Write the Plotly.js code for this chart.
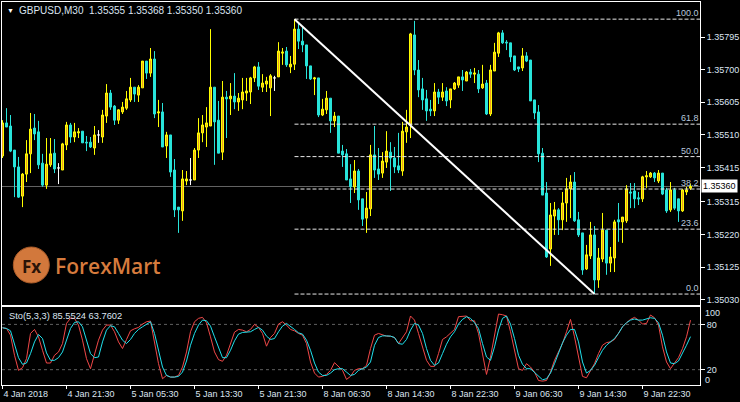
<!DOCTYPE html>
<html><head><meta charset="utf-8">
<script src="https://cdn.plot.ly/plotly-3.0.1.min.js"></script>
<style>html,body{margin:0;padding:0;background:#000;}#chart{width:740px;height:402px;}</style>
</head><body><div id="chart"></div>
<script>
// ---- OHLC data (GBPUSD M30), bar index 0..172 ----
const opens = [1.35449,1.35545,1.35536,1.35466,1.35417,1.35332,1.35396,1.35455,1.35530,1.35519,
1.35428,1.35364,1.35423,1.35457,1.35414,1.35408,1.35481,1.35539,1.35504,1.35516,
1.35521,1.35489,1.35489,1.35472,1.35510,1.35504,1.35565,1.35632,1.35594,1.35553,
1.35577,1.35588,1.35612,1.35649,1.35626,1.35647,1.35725,1.35690,1.35731,1.35574,
1.35577,1.35478,1.35510,1.35408,1.35300,1.35289,1.35376,1.35379,1.35379,1.35466,
1.35516,1.35533,1.35536,1.35649,1.35553,1.35460,1.35620,1.35615,1.35623,1.35606,
1.35612,1.35632,1.35635,1.35676,1.35708,1.35649,1.35658,1.35647,1.35676,1.35679,
1.35748,1.35754,1.35708,1.35716,1.35818,1.35783,1.35772,1.35711,1.35673,1.35676,
1.35568,1.35583,1.35617,1.35551,1.35565,1.35463,1.35455,1.35382,1.35359,1.35405,
1.35324,1.35268,1.35295,1.35452,1.35411,1.35399,1.35431,1.35460,1.35443,1.35420,
1.35405,1.35519,1.35539,1.35801,1.35699,1.35644,1.35615,1.35585,1.35580,1.35635,
1.35620,1.35638,1.35612,1.35644,1.35655,1.35679,1.35667,1.35693,1.35687,1.35687,
1.35647,1.35661,1.35571,1.35696,1.35748,1.35807,1.35780,1.35778,1.35740,1.35708,
1.35705,1.35740,1.35728,1.35612,1.35577,1.35457,1.35341,1.35178,1.35274,1.35292,
1.35263,1.35312,1.35353,1.35373,1.35263,1.35225,1.35120,1.35158,1.35219,1.35088,
1.35149,1.35233,1.35137,1.35152,1.35263,1.35257,1.35260,1.35344,1.35347,1.35327,
1.35324,1.35388,1.35388,1.35399,1.35376,1.35399,1.35350,1.35292,1.35350,1.35324,
1.35289,1.35344,1.35355];
const highs = [1.35553,1.35588,1.35568,1.35466,1.35446,1.35399,1.35495,1.35574,1.35571,1.35551,
1.35455,1.35501,1.35501,1.35498,1.35428,1.35487,1.35548,1.35545,1.35545,1.35530,
1.35521,1.35507,1.35504,1.35536,1.35524,1.35583,1.35658,1.35641,1.35597,1.35585,
1.35606,1.35638,1.35676,1.35649,1.35655,1.35725,1.35725,1.35763,1.35754,1.35612,
1.35603,1.35519,1.35510,1.35440,1.35300,1.35408,1.35405,1.35443,1.35472,1.35559,
1.35568,1.35591,1.35818,1.35649,1.35609,1.35667,1.35638,1.35661,1.35690,1.35632,
1.35676,1.35676,1.35679,1.35711,1.35722,1.35687,1.35679,1.35687,1.35682,1.35780,
1.35763,1.35766,1.35740,1.35847,1.35836,1.35824,1.35772,1.35711,1.35679,1.35676,
1.35615,1.35638,1.35617,1.35577,1.35565,1.35481,1.35469,1.35425,1.35437,1.35411,
1.35324,1.35344,1.35481,1.35536,1.35472,1.35460,1.35521,1.35489,1.35475,1.35516,
1.35548,1.35583,1.35807,1.35842,1.35728,1.35676,1.35641,1.35612,1.35661,1.35644,
1.35661,1.35649,1.35644,1.35664,1.35679,1.35699,1.35696,1.35702,1.35705,1.35699,
1.35714,1.35670,1.35714,1.35778,1.35810,1.35815,1.35786,1.35778,1.35740,1.35708,
1.35763,1.35751,1.35728,1.35612,1.35597,1.35472,1.35373,1.35312,1.35315,1.35297,
1.35344,1.35385,1.35393,1.35402,1.35286,1.35225,1.35190,1.35257,1.35245,1.35181,
1.35283,1.35233,1.35184,1.35263,1.35312,1.35271,1.35364,1.35370,1.35370,1.35344,
1.35391,1.35405,1.35402,1.35402,1.35408,1.35399,1.35356,1.35373,1.35356,1.35324,
1.35353,1.35359,1.35368];
const lows = [1.35443,1.35533,1.35460,1.35329,1.35327,1.35300,1.35373,1.35399,1.35495,1.35411,
1.35359,1.35353,1.35417,1.35399,1.35367,1.35408,1.35466,1.35487,1.35489,1.35501,
1.35487,1.35463,1.35472,1.35452,1.35487,1.35487,1.35545,1.35583,1.35539,1.35542,
1.35571,1.35583,1.35606,1.35606,1.35606,1.35647,1.35673,1.35679,1.35559,1.35533,
1.35475,1.35443,1.35388,1.35271,1.35225,1.35260,1.35364,1.35364,1.35379,1.35443,
1.35489,1.35475,1.35536,1.35423,1.35457,1.35437,1.35501,1.35568,1.35585,1.35580,
1.35585,1.35609,1.35600,1.35664,1.35641,1.35635,1.35635,1.35565,1.35638,1.35679,
1.35714,1.35708,1.35690,1.35699,1.35760,1.35751,1.35673,1.35670,1.35626,1.35562,
1.35565,1.35571,1.35516,1.35533,1.35457,1.35417,1.35379,1.35312,1.35341,1.35292,
1.35245,1.35225,1.35274,1.35385,1.35379,1.35385,1.35414,1.35347,1.35399,1.35399,
1.35391,1.35487,1.35501,1.35684,1.35620,1.35583,1.35551,1.35565,1.35565,1.35600,
1.35609,1.35594,1.35588,1.35641,1.35647,1.35638,1.35667,1.35676,1.35661,1.35632,
1.35644,1.35568,1.35565,1.35696,1.35737,1.35775,1.35757,1.35722,1.35696,1.35693,
1.35696,1.35722,1.35609,1.35556,1.35431,1.35335,1.35152,1.35129,1.35219,1.35219,
1.35233,1.35257,1.35268,1.35257,1.35213,1.35103,1.35117,1.35149,1.35047,1.35065,
1.35140,1.35103,1.35111,1.35111,1.35199,1.35196,1.35254,1.35297,1.35297,1.35306,
1.35315,1.35356,1.35385,1.35373,1.35370,1.35335,1.35283,1.35286,1.35292,1.35257,
1.35286,1.35335,1.35350];
const closes = [1.35545,1.35533,1.35463,1.35417,1.35329,1.35396,1.35455,1.35527,1.35513,1.35423,
1.35364,1.35425,1.35455,1.35411,1.35414,1.35484,1.35539,1.35504,1.35519,1.35519,
1.35487,1.35487,1.35475,1.35510,1.35510,1.35568,1.35632,1.35591,1.35553,1.35583,
1.35591,1.35615,1.35649,1.35629,1.35649,1.35725,1.35690,1.35731,1.35571,1.35577,
1.35475,1.35510,1.35402,1.35292,1.35292,1.35382,1.35382,1.35379,1.35466,1.35516,
1.35539,1.35545,1.35649,1.35548,1.35457,1.35620,1.35615,1.35623,1.35606,1.35617,
1.35635,1.35638,1.35676,1.35708,1.35652,1.35661,1.35667,1.35682,1.35676,1.35754,
1.35751,1.35714,1.35716,1.35818,1.35783,1.35772,1.35711,1.35673,1.35676,1.35568,
1.35585,1.35617,1.35551,1.35565,1.35457,1.35452,1.35379,1.35359,1.35405,1.35321,
1.35265,1.35297,1.35452,1.35408,1.35396,1.35434,1.35463,1.35443,1.35417,1.35408,
1.35521,1.35533,1.35804,1.35699,1.35641,1.35612,1.35580,1.35580,1.35635,1.35620,
1.35635,1.35609,1.35644,1.35661,1.35679,1.35670,1.35693,1.35687,1.35690,1.35644,
1.35658,1.35571,1.35699,1.35751,1.35807,1.35778,1.35778,1.35737,1.35699,1.35702,
1.35740,1.35725,1.35609,1.35574,1.35455,1.35335,1.35155,1.35277,1.35292,1.35263,
1.35312,1.35353,1.35373,1.35260,1.35219,1.35117,1.35161,1.35219,1.35088,1.35152,
1.35233,1.35137,1.35155,1.35257,1.35257,1.35271,1.35353,1.35341,1.35324,1.35324,
1.35388,1.35391,1.35399,1.35385,1.35399,1.35338,1.35289,1.35350,1.35297,1.35289,
1.35350,1.35350,1.35360];

// ---- Stochastic (5,3,3) ----
const stochMain = [75.5,74.6,65.7,39.1,19.1,22.6,34.6,68.0,73.3,63.5,
45.7,28.8,28.8,39.1,43.5,54.6,81.3,88.0,88.0,79.1,
59.1,34.6,21.3,39.1,59.1,72.4,79.1,79.1,70.2,56.8,
48.0,60.0,71.5,74.2,76.0,80.4,83.5,84.4,54.6,28.0,
8.0,12.4,10.2,10.2,12.4,23.5,43.5,70.2,83.5,88.0,
89.3,82.2,63.5,43.5,33.3,31.1,39.1,55.5,69.7,73.3,
72.4,70.2,73.3,80.0,76.0,68.0,51.1,62.6,68.0,80.4,
83.5,79.1,73.3,71.5,68.0,65.7,54.6,30.2,15.5,10.2,
11.1,13.7,19.1,29.3,23.5,19.1,7.1,11.1,19.1,21.3,
21.3,25.7,48.0,65.7,68.0,65.7,64.4,64.4,62.6,54.6,
62.6,70.2,91.1,85.7,68.0,50.2,32.4,24.4,24.4,41.3,
60.0,63.5,68.8,73.3,90.2,91.1,91.1,84.8,84.8,68.0,
41.3,13.7,36.8,68.0,93.7,92.8,91.1,70.2,45.7,21.3,
19.1,28.0,23.5,16.8,5.7,4.8,5.7,16.8,32.4,43.5,
54.6,70.2,86.6,63.5,34.6,11.1,9.3,19.1,28.0,41.3,
52.4,55.9,56.8,60.0,68.8,76.8,82.2,86.6,89.3,85.7,
80.4,81.3,92.4,88.8,79.1,50.2,30.2,21.3,28.8,36.0,
48.0,63.5,85.5524];
const stochSignal = [75.5,74.6,71.5,52.4,35.9,27.1,28.8,41.3,56.8,66.6,
61.3,42.2,32.4,32.4,35.9,43.5,59.1,74.6,82.6,83.5,
76.8,59.1,41.3,35.9,36.8,56.8,72.4,78.2,76.8,68.0,
59.1,54.6,60.0,68.0,73.3,76.8,80.4,83.5,68.0,43.5,
23.5,12.4,10.2,10.2,11.1,16.8,31.5,52.4,68.0,79.1,
85.7,84.8,77.7,63.5,50.2,35.9,35.9,45.7,58.2,67.1,
69.3,69.3,70.2,73.3,76.0,72.4,64.4,60.0,61.3,70.2,
77.7,81.3,77.7,73.3,68.8,67.1,59.1,45.7,28.8,16.8,
12.4,12.4,15.5,20.0,21.3,21.3,16.8,12.4,13.7,19.1,
21.3,23.5,30.2,52.4,62.6,64.8,64.8,64.4,62.6,54.6,
53.7,60.0,72.4,81.3,79.1,68.0,48.0,32.4,25.7,28.8,
41.3,53.7,63.5,70.2,80.4,86.6,90.2,88.0,82.2,74.6,
54.6,36.8,32.4,50.2,72.4,88.0,91.1,80.4,61.3,39.1,
27.1,21.3,21.3,16.8,11.1,6.6,8.0,15.5,28.0,41.3,
55.5,65.7,73.3,73.3,56.8,30.2,15.5,19.1,25.7,35.9,
45.7,52.4,56.8,61.3,68.0,76.8,82.2,85.7,87.1,85.7,
85.7,87.5,88.8,88.0,82.2,65.7,43.5,28.8,28.0,31.5,
41.3,52.4,63.7602];

// ---- axes / labels ----
const xTickIdx  = [0,16,32,48,64,80,96,112,128,144,160];
const xTickText = ['4 Jan 2018','4 Jan 21:30','5 Jan 05:30','5 Jan 13:30','5 Jan 21:30','8 Jan 06:30','8 Jan 14:30','8 Jan 22:30','9 Jan 06:30','9 Jan 14:30','9 Jan 22:30'];
const priceTicks = [1.35795,1.35700,1.35605,1.35510,1.35415,1.35315,1.35220,1.35125,1.35030];
const stochTicks = [80,20];
const stochEdgeLabels = [100,0];
const stochLevels = [20,80];
const fibLevels = [0,23.6,38.2,50,61.8,100];
const fibLabels = ['0.0','23.6','38.2','50.0','61.8','100.0'];
const fibHighIdx = 73, fibLowIdx = 148;
const symbolTitle = 'GBPUSD,M30  1.35355 1.35368 1.35350 1.35360';
const stochTitle = 'Sto(5,3,3) 85.5524 63.7602';
const logoText = 'ForexMart';

// ---- build ----
const idx = opens.map((_, i) => i);
const isDoji = opens.map((o, i) => o === closes[i]);
const pick = (arr, want) => arr.map((v, i) => (isDoji[i] === want ? v : null));
const last = closes.length - 1;
const fibHigh = highs[fibHighIdx], fibLow = lows[fibLowIdx];

const FONT = 'Liberation Sans, Arial, sans-serif';
const TXT = '#dce4f0';
const AX = 9;
const BULL_LINE = '#ffff00', BULL_FILL = '#f0a020', BEAR = '#28e4da';
const xRange = [-0.125, 174.375];

const traces = [
  { type:'candlestick', x:idx, open:pick(opens,false), high:pick(highs,false), low:pick(lows,false), close:pick(closes,false),
    xaxis:'x', yaxis:'y', whiskerwidth:0, hoverinfo:'skip',
    increasing:{line:{color:BULL_LINE,width:1}, fillcolor:BULL_FILL},
    decreasing:{line:{color:BEAR,width:1}, fillcolor:BEAR} },
  { type:'candlestick', x:idx, open:pick(opens,true), high:pick(highs,true), low:pick(lows,true), close:pick(closes,true),
    xaxis:'x', yaxis:'y', whiskerwidth:0, hoverinfo:'skip',
    increasing:{line:{color:'#ffffff',width:1}, fillcolor:'#ffffff'},
    decreasing:{line:{color:'#ffffff',width:1}, fillcolor:'#ffffff'} },
  { type:'scatter', mode:'lines', x:idx, y:stochMain, xaxis:'x2', yaxis:'y2', line:{color:'#f04848',width:1}, hoverinfo:'skip' },
  { type:'scatter', mode:'lines', x:idx, y:stochSignal, xaxis:'x2', yaxis:'y2', line:{color:'#20e0ec',width:1}, hoverinfo:'skip' }
];

const shapes = [];
shapes.push({type:'line', layer:'below', xref:'paper', x0:0, x1:1, yref:'y', y0:closes[last], y1:closes[last], line:{color:'#646464',width:1}});
fibLevels.forEach(l => {
  const p = fibLow + (fibHigh - fibLow) * l / 100;
  shapes.push({type:'line', xref:'x', x0:fibHighIdx, x1:xRange[1], yref:'y', y0:p, y1:p, line:{color:'#e8e8e8',width:1,dash:'4px,2px'}});
});
shapes.push({type:'line', xref:'x', x0:fibHighIdx, x1:fibLowIdx, yref:'y', y0:fibHigh, y1:fibLow, line:{color:'#ffffff',width:2}});
stochLevels.forEach(l => {
  shapes.push({type:'line', layer:'below', xref:'x2', x0:xRange[0], x1:xRange[1], yref:'y2', y0:l, y1:l, line:{color:'#606060',width:1,dash:'3px,3px'}});
});
shapes.push({type:'circle', xref:'paper', yref:'paper', x0:0.0162, x1:0.0678, y0:0.2663, y1:0.3603, fillcolor:'#d2783c', line:{color:'#a85a28',width:1}, layer:'below'});

const annotations = [];
annotations.push({xref:'paper', yref:'paper', x:0.0045, y:0.9778, xanchor:'left', yanchor:'middle', text:'▼', showarrow:false, font:{family:FONT,size:7,color:'#ffffff'}});
annotations.push({xref:'paper', yref:'paper', x:0.0215, y:0.9778, xanchor:'left', yanchor:'middle', text:symbolTitle, showarrow:false, font:{family:FONT,size:10,color:TXT}});
annotations.push({xref:'paper', yref:'paper', x:0.0067, y:0.180, xanchor:'left', yanchor:'middle', text:stochTitle, showarrow:false, font:{family:FONT,size:9.3,color:TXT}});
fibLevels.forEach((l, k) => {
  const p = fibLow + (fibHigh - fibLow) * l / 100;
  annotations.push({xref:'paper', x:1, xanchor:'right', yref:'y', y:p, yanchor:'bottom', text:fibLabels[k], showarrow:false, borderpad:0, font:{family:FONT,size:AX,color:'#b8c8dc'}});
});
annotations.push({xref:'paper', x:1, xanchor:'left', xshift:1, yref:'y', y:closes[last], yanchor:'middle', text:closes[last].toFixed(5), showarrow:false, bgcolor:'#ffffff', borderpad:1, font:{family:FONT,size:AX,color:'#000000'}});
stochEdgeLabels.forEach(v => {
  annotations.push({xref:'paper', x:1, xanchor:'left', xshift:4, yref:'y2', y:v, yanchor:'middle', yshift:(v > 50 ? -4 : 5), text:String(v), showarrow:false, borderpad:0, font:{family:FONT,size:AX,color:TXT}});
});
annotations.push({xref:'paper', yref:'paper', x:0.0421, y:0.3107, xanchor:'center', yanchor:'middle', text:'<b>Fx</b>', showarrow:false, font:{family:'Open Sans, sans-serif',size:17,color:'#2a1408'}});
annotations.push({xref:'paper', yref:'paper', x:0.0726, y:0.3107, xanchor:'left', yanchor:'middle', text:logoText, showarrow:false, font:{family:'Open Sans, sans-serif',size:21,weight:600,color:'#d67b3d'}});

const axisBase = {showgrid:false, zeroline:false, showline:true, linecolor:'#ffffff', linewidth:1, mirror:true, fixedrange:true};
const layout = {
  width:740, height:402, paper_bgcolor:'#000000', plot_bgcolor:'#000000',
  margin:{l:2, r:40, t:2, b:17, pad:0}, showlegend:false,
  boxgap:0.5, boxgroupgap:0, boxmode:'overlay',
  font:{family:FONT, size:AX, color:TXT},
  xaxis: Object.assign({}, axisBase, {domain:[0,1], anchor:'y', range:xRange, ticks:'', showticklabels:false, rangeslider:{visible:false}}),
  yaxis: Object.assign({}, axisBase, {domain:[0.2076,1], anchor:'x', side:'right', range:[1.350137,1.358969],
          ticks:'outside', ticklen:4, tickcolor:'#ffffff', tickvals:priceTicks, ticktext:priceTicks.map(v => v.toFixed(5)),
          tickfont:{family:FONT,size:AX,color:TXT}}),
  xaxis2: Object.assign({}, axisBase, {domain:[0,1], anchor:'y2', range:xRange, ticks:'outside', ticklen:3, tickcolor:'#ffffff',
          tickvals:xTickIdx, ticktext:xTickText, tickangle:0, ticklabelposition:'outside right', tickfont:{family:FONT,size:AX,color:TXT}}),
  yaxis2: Object.assign({}, axisBase, {domain:[0,0.2024], anchor:'x2', side:'right', range:[-0.3,102.4],
          ticks:'outside', ticklen:4, tickcolor:'#ffffff', tickvals:stochTicks, ticktext:stochTicks.map(String),
          tickfont:{family:FONT,size:AX,color:TXT}}),
  shapes: shapes, annotations: annotations
};
Plotly.newPlot('chart', traces, layout, {staticPlot:true, displayModeBar:false});
</script>
</body></html>
